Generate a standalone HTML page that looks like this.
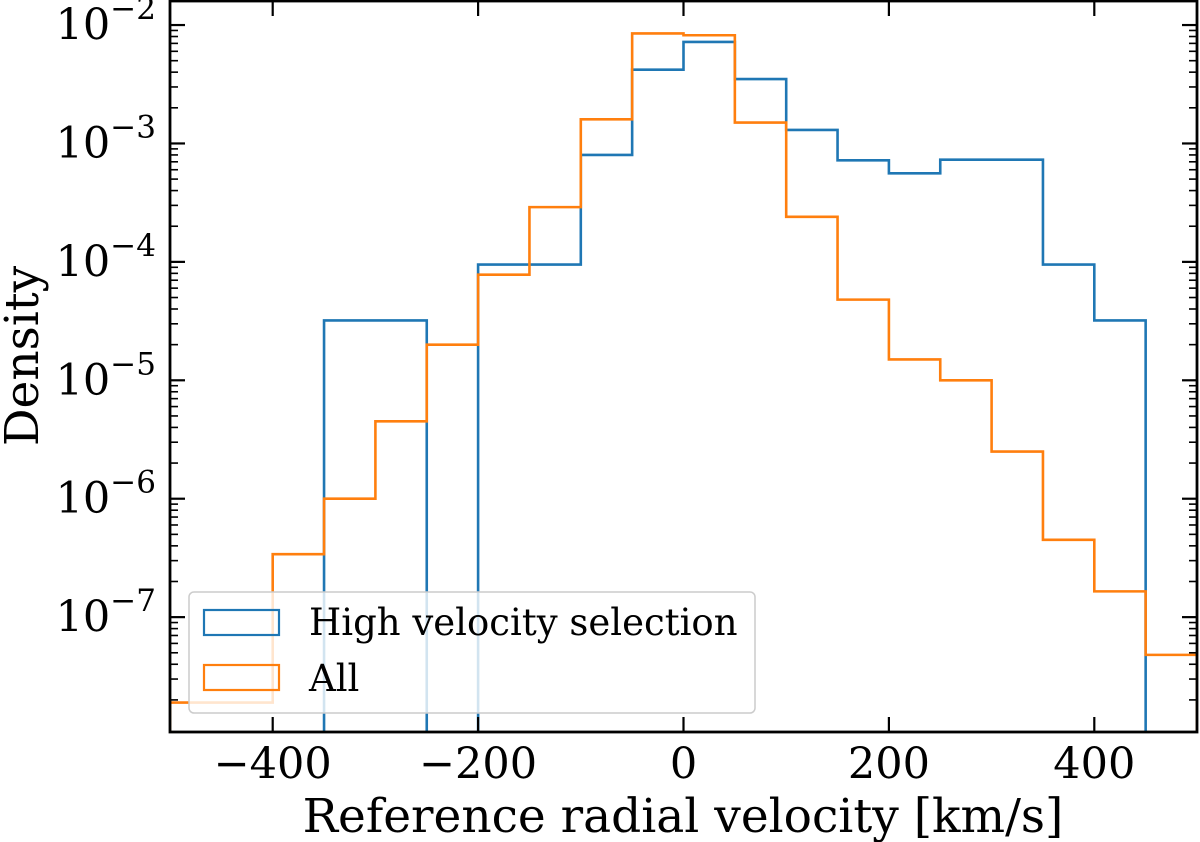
<!DOCTYPE html>
<html><head><meta charset="utf-8"><style>
body{margin:0;background:#fff}
svg{display:block;font-family:"DejaVu Serif","Liberation Serif",serif}
</style></head><body>
<svg id="chart" width="1200" height="842" viewBox="0 0 1200 842" xmlns="http://www.w3.org/2000/svg">
<g id="marks"></g>
<g id="axes"></g>
</svg>
<script>
const binEdges=[-500,-450,-400,-350,-300,-250,-200,-150,-100,-50,0,50,100,150,200,250,300,350,400,450,500];
const highVel=[0,0,0,3.2e-5,3.2e-5,0,9.5e-5,9.5e-5,8e-4,4.2e-3,7.2e-3,3.5e-3,1.3e-3,7.2e-4,5.6e-4,7.3e-4,7.3e-4,9.5e-5,3.2e-5,0];
const allVel=[1.9e-8,1.9e-8,3.4e-7,1e-6,4.5e-6,2e-5,7.8e-5,2.9e-4,1.6e-3,8.5e-3,8.2e-3,1.5e-3,2.4e-4,4.8e-5,1.5e-5,1e-5,2.5e-6,4.5e-7,1.65e-7,4.8e-8];
const xTicks=[-400,-200,0,200,400];
const xTickLabels=["\u2212400","\u2212200","0","200","400"];
const yExps=[-7,-6,-5,-4,-3,-2];

const L=170,R=1197,T=1,B=732;
const x=v=>L+(v+500)/1000*(R-L);
const lt=-7.97, ht=-1.797;
const y=v=>v<=0?B+5:B-(Math.log10(v)-lt)/(ht-lt)*(B-T);
const NS="http://www.w3.org/2000/svg";
function mk(tag,attrs,parent){const e=document.createElementNS(NS,tag);for(const k in attrs)e.setAttribute(k,attrs[k]);parent.appendChild(e);return e;}
const marks=document.getElementById('marks'),axes=document.getElementById('axes');
const clip=mk('clipPath',{id:'pc'},marks);mk('rect',{x:L,y:T,width:R-L,height:B-T},clip);

function stepPath(vals){
  let d='M'+x(binEdges[0])+','+(B+5);
  vals.forEach((v,i)=>{d+=' L'+x(binEdges[i])+','+y(v)+' L'+x(binEdges[i+1])+','+y(v);});
  d+=' L'+x(binEdges[binEdges.length-1])+','+(B+5);
  return d;
}
const p1=mk('path',{d:stepPath(highVel),fill:'none',stroke:'#1f77b4','stroke-width':2.6,'clip-path':'url(#pc)'},marks);


const p2=mk('path',{d:stepPath(allVel),fill:'none',stroke:'#ff7f0e','stroke-width':2.6,'clip-path':'url(#pc)'},marks);



const fr=mk('rect',{x:L,y:T,width:R-L,height:B-T,fill:'none',stroke:'#000','stroke-width':2.8},axes);


xTicks.forEach((t,i)=>{
  const X=x(t);
  mk('line',{x1:X,x2:X,y1:B,y2:B-15,stroke:'#000','stroke-width':2.2},axes);
  mk('line',{x1:X,x2:X,y1:T,y2:T+15,stroke:'#000','stroke-width':2.2},axes);
  const tx=mk('text',{x:X,y:B+46,'font-size':43,'text-anchor':'middle'},axes);
  tx.textContent=xTickLabels[i];
  
  
});
for(let e=-8;e<=-2;e++){
  for(let m=1;m<10;m++){
    const v=m*Math.pow(10,e);const Y=y(v);
    if(Y<T||Y>B)continue;
    const len=m===1?15:8;
    mk('line',{x1:L,x2:L+len,y1:Y,y2:Y,stroke:'#000','stroke-width':m===1?2.2:1.6},axes);
    mk('line',{x1:R,x2:R-len,y1:Y,y2:Y,stroke:'#000','stroke-width':m===1?2.2:1.6},axes);
  }
}
yExps.forEach(e=>{
  const Y=y(Math.pow(10,e));
  const tx=mk('text',{x:156,y:Y+14,'font-size':43,'text-anchor':'end'},axes);
  
  
  const a=mk('tspan',{},tx);a.textContent='10';
  const b=mk('tspan',{dy:-20,'font-size':31},tx);b.textContent='\u2212'+(-e);
});
const xl=mk('text',{x:683,y:832,'font-size':47,'text-anchor':'middle'},axes);
xl.textContent='Reference radial velocity [km/s]';


const yl=mk('text',{x:0,y:0,'font-size':47,'text-anchor':'middle',transform:'translate(38,356) rotate(-90)'},axes);
yl.textContent='Density';


const lg=mk('g',{},axes);


mk('rect',{x:189,y:592,width:566,height:121,rx:5,fill:'#fff','fill-opacity':0.8,stroke:'#ccc','stroke-width':1.5},lg);
mk('rect',{x:204,y:610,width:75,height:25,fill:'none',stroke:'#1f77b4','stroke-width':2.2},lg);
mk('rect',{x:204,y:665,width:75,height:25,fill:'none',stroke:'#ff7f0e','stroke-width':2.2},lg);
const t1=mk('text',{x:309,y:635,'font-size':37},lg);t1.textContent='High velocity selection';


const t2=mk('text',{x:309,y:691,'font-size':37},lg);t2.textContent='All';


</script>
</body></html>
